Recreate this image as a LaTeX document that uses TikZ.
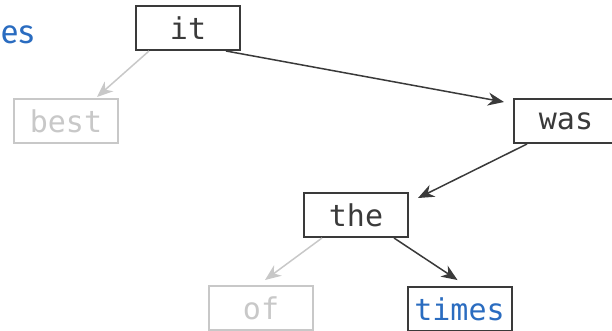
\documentclass[tikz,border=0pt]{standalone}
\usepackage{fontspec}
\setmonofont{DejaVu Sans Mono}
\newfontfamily\labelfont{Fira Sans}
\usetikzlibrary{arrows.meta}
\definecolor{dark}{HTML}{3A3A3A}
\definecolor{light}{HTML}{C8C8C8}
\definecolor{blueword}{HTML}{2A6CC0}
\tikzset{
  wordbox/.style={draw=dark, line width=2pt, fill=white, minimum width=104pt, minimum height=44pt, inner sep=0pt, font=\ttfamily\fontsize{30}{34}\selectfont, text=dark},
  greybox/.style={wordbox, draw=light, text=light},
  bluebox/.style={wordbox, text=blueword},
  edge/.style={draw=dark, line width=1.5pt, -{Stealth[length=16pt,width=13pt,inset=5pt]}},
  greyedge/.style={edge, draw=light}
}
\begin{document}
\begin{tikzpicture}[x=1pt,y=-1pt]
\useasboundingbox (0,0) rectangle (612,330);
\node[anchor=base west, inner sep=0pt, text=blueword, font=\labelfont\fontsize{33}{38}\selectfont] (es) at (0.5,43) {es};
\node[wordbox] (it) at (188,28) {it};
\node[greybox] (best) at (66,121) {best};
\node[wordbox] (was) at (566,121) {was};
\node[wordbox] (the) at (356,215) {the};
\node[greybox] (of) at (261,308) {of};
\node[bluebox] (times) at (459.5,309) {times};
\draw[greyedge] ([xshift=14pt]it.south west) -- ([xshift=31pt,yshift=1pt]best.north);
\draw[edge] ([xshift=38pt]it.south) -- ([xshift=-9pt,yshift=-4pt]was.north west);
\draw[edge] ([xshift=14pt]was.south west) -- ([xshift=9pt,yshift=-6pt]the.north east);
\draw[greyedge] ([xshift=19pt]the.south west) -- ([xshift=4pt,yshift=5pt]of.north);
\draw[edge] ([xshift=-15pt]the.south east) -- ([xshift=-2pt,yshift=6pt]times.north);
\end{tikzpicture}
\end{document}
